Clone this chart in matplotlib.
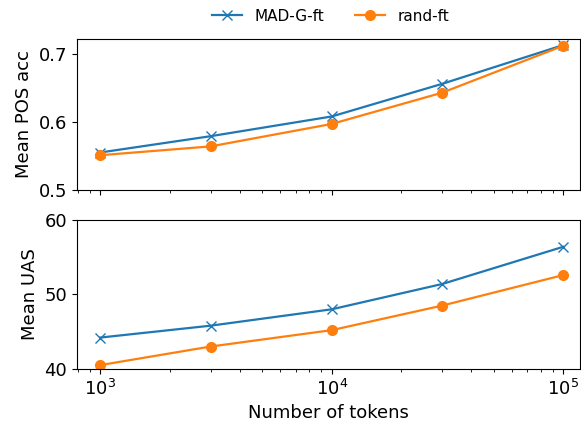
import matplotlib
matplotlib.use("Agg")
import matplotlib.pyplot as plt

tokens = [1000, 3000, 10000, 30000, 100000]
pos_madg = [0.555, 0.579, 0.608, 0.656, 0.713]
pos_rand = [0.551, 0.564, 0.597, 0.643, 0.712]
uas_madg = [44.2, 45.8, 48.0, 51.4, 56.4]
uas_rand = [40.5, 43.0, 45.2, 48.5, 52.6]

fig = plt.figure(figsize=(5.81, 4.23), dpi=100)
ax1 = fig.add_axes([0.1325, 0.551, 0.865, 0.357])
ax2 = fig.add_axes([0.1325, 0.128, 0.865, 0.352], sharex=ax1)

for ax, m, r in [(ax1, pos_madg, pos_rand), (ax2, uas_madg, uas_rand)]:
    ax.plot(tokens, m, marker='x', color='#1f77b4', markersize=7, linewidth=1.6, label='MAD-G-ft')
    ax.plot(tokens, r, marker='o', color='#ff7f0e', markersize=7, linewidth=1.6, label='rand-ft')
    ax.set_xscale('log')
    ax.tick_params(labelsize=13)

ax1.set_xlim(10**2.9, 10**5.07)
ax1.set_ylim(0.5, 0.722)
ax1.set_yticks([0.5, 0.6, 0.7])
ax2.set_ylim(40, 60)
ax2.set_yticks([40, 50, 60])
ax1.tick_params(labelbottom=False)
ax1.set_ylabel('Mean POS acc', fontsize=13)
ax2.set_ylabel('Mean UAS', fontsize=13)
ax2.set_xlabel('Number of tokens', fontsize=13)

h, l = ax1.get_legend_handles_labels()
fig.legend(h, l, loc='center', bbox_to_anchor=(0.569, 0.962), ncol=2, frameon=False, fontsize=11, columnspacing=2.0)

fig.savefig('out.png', dpi=100)
